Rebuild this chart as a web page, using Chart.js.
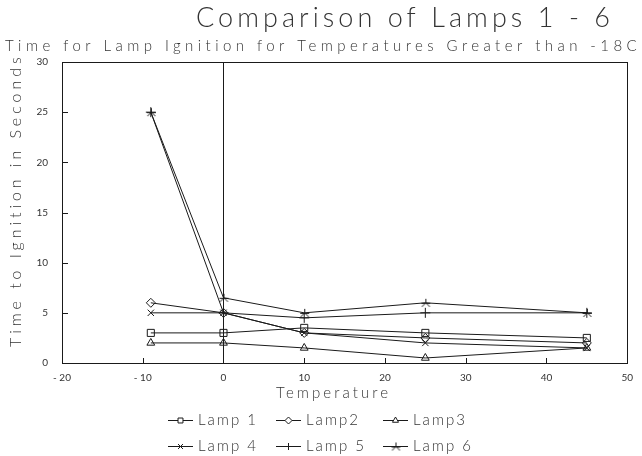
<!DOCTYPE html>
<html><head><meta charset="utf-8">
<script src="https://cdn.jsdelivr.net/npm/chart.js@4"></script>
<style>html,body{margin:0;padding:0;background:#fff}#wrap{width:642px;height:456px;position:relative}</style>
</head><body><div id="wrap"><canvas id="c" width="642" height="456"></canvas></div>
<script>
const temperatures = [-9, 0, 10, 25, 45];
const lamp1 = [3, 3, 3.5, 3, 2.5];
const lamp2 = [6, 5, 3, 2.5, 2];
const lamp3 = [2, 2, 1.5, 0.5, 1.5];
const lamp4 = [5, 5, 3, 2, 1.5];
const lamp5 = [25, 5, 4.5, 5, 5];
const lamp6 = [25, 6.5, 5, 6, 5];
const seriesLabels = ['Lamp 1', 'Lamp2', 'Lamp3', 'Lamp 4', 'Lamp 5', 'Lamp 6'];
const xTickValues = [-20, -10, 0, 10, 20, 30, 40, 50];
const yTickValues = [0, 5, 10, 15, 20, 25, 30];
const titleText = 'Comparison of Lamps 1 - 6';
const subtitleText = 'Time for Lamp Ignition for Temperatures Greater than -18C';
const xTitleText = 'Temperature';
const yTitleText = 'Time to Ignition in Seconds';

const FONT = "Lato, 'DejaVu Sans', sans-serif";
const WEIGHT = '300';
const INK = '#1a1a1a';
const TEXT_INK = '#333';

function lamp6Marker(size) {
  const c = document.createElement('canvas');
  c.width = size; c.height = size;
  const g = c.getContext('2d');
  const m = size / 2;
  g.strokeStyle = INK; g.lineWidth = 1;
  g.beginPath();
  g.moveTo(m + 0.5, m - 4); g.lineTo(m + 0.5, m);
  g.moveTo(m - 3.5, m + 4); g.lineTo(m + 0.5, m); g.lineTo(m + 4.5, m + 4);
  g.moveTo(m - 4, m + 0.5); g.lineTo(m + 5, m + 0.5);
  g.stroke();
  return c;
}
const markerStyles = ['rect', 'rectRot', 'triangle', 'crossRot', 'cross', lamp6Marker(12)];
const markerRadius = [5, 4.5, 4.5, 4.5, 5, 5];
const seriesValues = [lamp1, lamp2, lamp3, lamp4, lamp5, lamp6];

const datasets = seriesValues.map((vals, i) => ({
  label: seriesLabels[i],
  data: temperatures.map((t, k) => ({ x: t, y: vals[k] })),
  showLine: true,
  borderColor: INK,
  borderWidth: 1,
  backgroundColor: 'rgba(0,0,0,0)',
  pointStyle: markerStyles[i],
  pointRadius: markerRadius[i],
  pointBorderColor: INK,
  pointBorderWidth: 1,
  pointBackgroundColor: 'rgba(255,255,255,0)',
  tension: 0
}));

function spacedText(ctx, text, x, y, size, targetWidth, align) {
  ctx.font = WEIGHT + ' ' + size + 'px ' + FONT;
  ctx.letterSpacing = '0px';
  const w0 = ctx.measureText(text).width;
  const sp = targetWidth ? (targetWidth - w0) / (text.length - 1) : 0;
  ctx.letterSpacing = sp + 'px';
  const w = w0 + sp * (text.length - 1);
  let sx = x;
  if (align === 'center') sx = x - w / 2;
  else if (align === 'right') sx = x - w;
  ctx.textAlign = 'left';
  ctx.textBaseline = 'middle';
  ctx.fillText(text, sx, y);
  ctx.letterSpacing = '0px';
}

const decor = {
  id: 'decor',
  afterDraw(chart) {
    const ctx = chart.ctx;
    const a = chart.chartArea;
    const xs = chart.scales.x, ys = chart.scales.y;
    ctx.save();
    ctx.strokeStyle = INK; ctx.lineWidth = 1;
    ctx.strokeRect(Math.round(a.left) + 0.5, Math.round(a.top) + 0.5, Math.round(a.right - a.left), Math.round(a.bottom - a.top));
    const x0 = Math.round(xs.getPixelForValue(0)) + 0.5;
    ctx.beginPath(); ctx.moveTo(x0, a.top); ctx.lineTo(x0, a.bottom); ctx.stroke();
    ctx.beginPath();
    yTickValues.slice(1, -1).forEach(v => {
      const y = Math.round(ys.getPixelForValue(v)) + 0.5;
      ctx.moveTo(a.left, y); ctx.lineTo(a.left + 6, y);
    });
    xTickValues.slice(1, -1).forEach(v => {
      if (v === 0) return;
      const x = Math.round(xs.getPixelForValue(v)) + 0.5;
      ctx.moveTo(x, a.bottom); ctx.lineTo(x, a.bottom - 5);
    });
    ctx.stroke();
    ctx.fillStyle = TEXT_INK;
    spacedText(ctx, titleText, 403, 18, 27, 414, 'center');
    spacedText(ctx, subtitleText, 321, 46, 15, 632, 'center');
    spacedText(ctx, xTitleText, 332, 393, 15, 112, 'center');
    ctx.save();
    ctx.translate(16, 202);
    ctx.rotate(-Math.PI / 2);
    spacedText(ctx, yTitleText, 0, 0, 16, 290, 'center');
    ctx.restore();
    const colX = [168, 276, 383];
    const rowY = [420, 446];
    chart.data.datasets.forEach((ds, i) => {
      const lx = colX[i % 3], ly = rowY[Math.floor(i / 3)];
      ctx.strokeStyle = INK;
      ctx.beginPath(); ctx.moveTo(lx, ly + 0.5); ctx.lineTo(lx + 25, ly + 0.5); ctx.stroke();
      ctx.fillStyle = '#fff';
      Chart.helpers.drawPoint(ctx, { pointStyle: ds.pointStyle, radius: 3.5, borderWidth: 1, rotation: 0 }, lx + 12.5, ly + 0.5);
      ctx.fillStyle = TEXT_INK;
      spacedText(ctx, ds.label, lx + 30, ly, 15, ds.label.length === 6 ? 58 : 52, 'left');
    });
    ctx.restore();
  }
};

new Chart(document.getElementById('c'), {
  type: 'scatter',
  data: { datasets },
  options: {
    responsive: false,
    animation: false,
    devicePixelRatio: 1,
    layout: { padding: { top: 62, right: 10, bottom: 0, left: 0 } },
    plugins: { legend: { display: false }, tooltip: { enabled: false }, title: { display: false } },
    scales: {
      x: {
        type: 'linear', min: -20, max: 50,
        afterBuildTicks: s => { s.ticks = xTickValues.map(v => ({ value: v })); },
        afterFit: s => { s.height = 93; },
        grid: { display: false, drawTicks: false },
        border: { display: false },
        ticks: { padding: 9, color: TEXT_INK, font: { family: FONT, size: 10 }, callback: v => (v < 0 ? '- ' + Math.abs(v) : String(v)) }
      },
      y: {
        type: 'linear', min: 0, max: 30,
        afterBuildTicks: s => { s.ticks = yTickValues.map(v => ({ value: v })); },
        afterFit: s => { s.width = 62; },
        grid: { display: false, drawTicks: false },
        border: { display: false },
        ticks: { padding: 14, color: TEXT_INK, font: { family: FONT, size: 10 } }
      }
    }
  },
  plugins: [decor]
});
</script>
</body></html>
